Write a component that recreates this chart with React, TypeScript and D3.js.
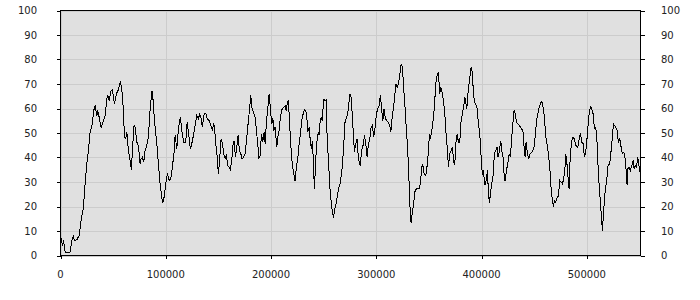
import React from "react";
import * as d3 from "d3";

// x positions in thousands
const xK: number[] = [
  0, 1.8, 2.8, 4.4, 9.1, 10.7, 12.3, 13.2, 15.5, 17.7, 19.6, 21.8, 23.4, 25.0, 26.5, 28.1, 29.7, 31.6, 32.9, 34.5,
  35.4, 36.7, 38.6, 40.8, 42.4, 44.0, 44.9, 46.2, 48.1, 49.3, 51.2, 52.5, 53.8, 55.0, 56.9, 58.2, 59.8, 60.7, 62.0, 63.0,
  64.5, 66.1, 67.4, 68.3, 69.9, 70.9, 72.5, 74.0, 75.6, 76.6, 77.8, 79.1, 80.4, 82.0, 83.5, 85.1, 86.7, 87.3, 88.6, 89.9,
  91.5, 93.0, 94.6, 96.2, 97.2, 98.4, 100.0, 101.6, 103.2, 104.8, 106.3, 107.9, 108.9, 110.5, 112.0, 113.9, 115.2, 117.1, 119.0, 120.3,
  121.5, 123.4, 124.7, 126.6, 127.9, 129.5, 131.0, 132.3, 133.6, 134.8, 136.4, 138.0, 139.3, 141.2, 142.8, 144.3, 145.3, 146.2, 147.5, 148.8,
  150.0, 151.3, 152.6, 153.8, 155.1, 156.4, 157.6, 158.9, 160.2, 161.4, 162.7, 164.0, 164.9, 166.2, 167.5, 168.7, 170.0, 171.3, 172.5, 173.8,
  175.4, 177.0, 178.5, 179.8, 180.8, 181.7, 183.3, 184.9, 186.1, 187.4, 188.4, 189.6, 190.9, 192.2, 193.4, 194.4, 195.8, 196.9, 198.2, 199.4,
  200.7, 201.7, 202.6, 203.9, 205.5, 206.4, 207.7, 208.9, 210.2, 211.8, 213.4, 214.3, 215.3, 216.5, 217.8, 219.1, 220.3, 221.6, 222.9, 224.1,
  225.4, 226.7, 227.9, 229.2, 230.5, 231.7, 233.0, 234.3, 234.9, 236.2, 237.4, 238.4, 239.3, 240.3, 241.2, 242.2, 243.1, 244.1, 245.0, 245.7,
  246.6, 247.6, 248.5, 249.5, 250.4, 251.4, 252.3, 253.3, 254.5, 256.1, 257.7, 259.3, 260.6, 261.8, 263.1, 264.4, 265.6, 267.2, 268.8, 270.4,
  272.0, 273.5, 274.8, 276.1, 277.3, 278.3, 279.2, 280.5, 281.8, 283.0, 284.6, 286.2, 287.8, 288.7, 290.0, 291.3, 292.5, 293.8, 295.1, 296.3,
  297.6, 298.9, 300.1, 301.4, 302.7, 303.9, 305.2, 306.2, 307.4, 308.7, 310.0, 311.5, 312.8, 313.8, 314.7, 316.0, 317.2, 318.5, 319.8, 321.0,
  322.3, 323.6, 324.8, 326.1, 327.4, 328.6, 329.9, 331.2, 332.1, 333.1, 334.3, 335.6, 336.9, 338.5, 340.7, 341.9, 343.2, 344.2, 345.4, 347.0,
  348.3, 349.5, 350.5, 351.4, 352.7, 354.0, 355.2, 356.5, 357.8, 359.0, 360.3, 361.3, 362.5, 363.8, 365.1, 366.3, 367.6, 368.5, 369.8, 371.1,
  372.3, 373.6, 374.6, 375.5, 376.8, 378.0, 379.3, 380.6, 381.8, 383.1, 384.1, 385.0, 386.0, 387.2, 388.5, 389.8, 390.7, 392.0, 393.2, 394.5,
  395.8, 397.0, 398.3, 399.6, 400.8, 401.8, 403.1, 404.3, 405.6, 406.5, 407.5, 408.4, 409.7, 411.0, 412.2, 413.5, 414.8, 415.7, 417.0, 418.3,
  419.2, 420.5, 421.4, 422.4, 423.6, 424.9, 426.2, 427.4, 428.7, 430.0, 430.9, 432.2, 433.1, 434.4, 435.7, 436.9, 438.2, 439.5, 440.4, 441.4,
  442.3, 443.6, 444.9, 446.1, 447.7, 449.6, 450.9, 452.1, 453.4, 454.7, 455.9, 457.2, 458.5, 459.7, 461.0, 462.0, 463.5, 464.8, 466.1, 467.3,
  468.3, 469.2, 470.5, 471.8, 473.0, 474.3, 475.6, 476.8, 478.1, 479.4, 480.0, 481.0, 481.9, 483.2, 484.1, 485.4, 487.0, 488.2, 489.5, 491.4,
  492.7, 493.9, 495.2, 496.5, 497.7, 499.0, 500.3, 501.2, 502.2, 503.4, 504.7, 506.0, 507.2, 508.5, 509.8, 511.0, 512.3, 513.6, 514.8, 516.1,
  517.4, 519.0, 520.2, 521.8, 523.1, 524.3, 525.3, 526.2, 527.5, 528.8, 530.0, 531.3, 532.6, 533.8, 535.1, 536.4, 537.6, 538.3, 538.9, 540.2,
  541.4, 542.7, 544.0, 544.9, 546.2, 547.1, 548.4, 549.7, 550.9,
];

const values: number[] = [
  8.2, 4.1, 6.1, 1.4, 1.4, 6.1, 7.8, 6.1, 6.4, 8.2, 14.3, 19.7, 29.3, 37.5, 42.9, 50.3, 52.4, 59.2, 61.2, 57.1,
  59.2, 56.5, 52.4, 55.1, 57.1, 63.9, 65.3, 63.5, 67.3, 67.6, 61.9, 64.6, 66.7, 67.6, 71, 68, 59.2, 48.3, 47.6, 50.3,
  42.9, 38.8, 35, 42.9, 53.1, 52.4, 46.3, 44.9, 37.4, 39.5, 40.1, 38.1, 42.9, 44.9, 48.3, 59.2, 66.7, 67.3, 59.2, 52.4,
  45.6, 37.4, 29.3, 23.8, 21.4, 23.8, 29.3, 33.6, 30.6, 31.3, 36.1, 42.2, 49, 43.5, 51.7, 56.7, 51, 46.3, 46.3, 54.4,
  50.3, 43.5, 45.6, 49.7, 53.1, 57.1, 55.8, 57.8, 55.8, 52.4, 57.6, 58.1, 55.8, 55.1, 53.1, 51, 53.7, 53.1, 45.6, 40.8,
  33.1, 40.1, 47.6, 45.6, 41.5, 39.5, 40.8, 36.7, 36.1, 35.1, 38.8, 45.6, 46.9, 40.1, 44.2, 49, 42.9, 41.5, 39.5, 40.1,
  41.5, 48.3, 55.1, 60.5, 65.3, 60.5, 58.5, 56.5, 51, 45.6, 39.5, 40.8, 49.7, 46.3, 50.3, 45.6, 55.5, 60, 66, 59.9,
  53.7, 56.2, 51, 52.4, 44.2, 48.3, 51, 56.5, 59.5, 60.5, 61, 59.2, 61.9, 63.3, 52.4, 42.9, 36.7, 33.3, 30.3, 36.1,
  39.5, 45.6, 49.7, 55.1, 57.8, 59.5, 59.2, 55.1, 50.3, 52.4, 46.3, 43.5, 46.9, 37.4, 27.2, 36.1, 44.2, 48.3, 50.3, 49,
  54.4, 56.5, 55.1, 60.5, 63.9, 63, 63.3, 48.3, 38.8, 26.5, 19.7, 15.4, 19, 21, 24.5, 27.9, 29.3, 34, 42.9, 55.1,
  56.5, 59.9, 66, 64.6, 56.5, 49, 42.2, 45.6, 47.6, 39.5, 36.7, 42.9, 45.6, 49, 45.6, 40.1, 45.6, 47.6, 52.4, 53.1,
  48.3, 52.4, 57.8, 59.9, 61.2, 65.3, 59.2, 55.1, 59.9, 55.8, 55.1, 54.4, 53.1, 50.3, 55.1, 59.2, 63.3, 70.1, 68.7, 70.1,
  73.5, 78, 76.9, 68, 59.9, 51, 42.9, 29.3, 19, 13.2, 17.7, 21.8, 26.5, 27.2, 27.2, 29.3, 36.1, 37.1, 33.3, 32.7,
  36.7, 42.2, 49.7, 47.6, 51, 55.1, 60.5, 70.1, 73.5, 74.8, 66, 68.7, 66.7, 63.3, 57.8, 49.7, 42.9, 36.3, 41.5, 42.9,
  44.2, 38.1, 37.1, 45.6, 49.7, 46.3, 46.3, 55.1, 57.8, 61.2, 64.6, 62.6, 59.9, 66.7, 71.4, 76.2, 76.9, 68.7, 62.6, 61.9,
  60, 53.7, 49.7, 40.1, 32.7, 34.7, 28.6, 30.6, 34.7, 25.9, 21.4, 25.2, 29.3, 32.7, 41.5, 42.9, 44.2, 40.1, 42.9, 46.9,
  42.9, 40.1, 33.3, 30.3, 34.7, 37.4, 41.5, 40.1, 48.3, 55.1, 59.2, 57.8, 54.4, 53.7, 53.1, 52.4, 51.7, 50.3, 44.2, 40.1,
  46.3, 41.5, 39.5, 41.5, 42.2, 43.5, 48.3, 54.4, 57.8, 60.5, 61.9, 63, 60.5, 56.5, 48.3, 46.3, 41.5, 36.1, 27.2, 22.4,
  20, 22.4, 21.8, 23.8, 24.1, 30.6, 29.9, 29.3, 31.3, 36.7, 41.5, 38.1, 33.3, 27.2, 38.8, 46.3, 48.3, 47.6, 44.9, 44.2,
  47.6, 49.9, 46.3, 45.6, 40.1, 42.2, 48.3, 53.1, 57.8, 60.8, 59.9, 57.8, 51.7, 52.4, 45.6, 33.3, 25.2, 17.7, 10.2, 19,
  25.9, 31.3, 36.7, 37.4, 42.9, 48.3, 53.7, 53.1, 52.4, 51, 46.3, 47.6, 44.2, 41.5, 42.2, 39.5, 33.3, 28.6, 35.4, 36.1,
  34.7, 36.7, 38.8, 35.4, 36.7, 36.1, 40.1, 36.1, 33.3,
];

const xTicks: number[] = [0, 100000, 200000, 300000, 400000, 500000];
const yTicks: number[] = [0, 10, 20, 30, 40, 50, 60, 70, 80, 90, 100];
const xMax = 551000;

export default function App() {
  const left = 60.5;
  const right = 640.5;
  const top = 10.5;
  const bottom = 255.5;
  const x = d3.scaleLinear().domain([0, xMax]).range([left, right]);
  const y = d3.scaleLinear().domain([0, 100]).range([bottom, top]);
  const pts: [number, number][] = xK.map((k, i) => [k * 1000, values[i]]);
  const line = d3
    .line<[number, number]>()
    .x((d) => x(d[0]))
    .y((d) => y(d[1]));
  const font = "'DejaVu Sans', Verdana, sans-serif";
  const r = (v: number) => Math.round(v) + 0.5;
  return (
    <svg
      width={700}
      height={300}
      style={{ position: "absolute", left: 0, top: 0, background: "#fff" }}
    >
      <rect x={left} y={top} width={right - left} height={bottom - top} fill="#e0e0e0" />
      {yTicks.map((t) => (
        <line key={"gy" + t} x1={left} x2={right} y1={r(y(t))} y2={r(y(t))} stroke="#cccccc" strokeWidth={1} shapeRendering="crispEdges" />
      ))}
      {xTicks.map((t) => (
        <line key={"gx" + t} x1={r(x(t))} x2={r(x(t))} y1={top} y2={bottom} stroke="#cccccc" strokeWidth={1} shapeRendering="crispEdges" />
      ))}
      <path d={line(pts) || ""} fill="none" stroke="#000" strokeWidth={1} shapeRendering="crispEdges" />
      <rect x={left} y={top} width={right - left} height={bottom - top} fill="none" stroke="#000" strokeWidth={1} shapeRendering="crispEdges" />
      {yTicks.map((t) => (
        <g key={"yt" + t}>
          <line x1={left - 4} x2={left} y1={r(y(t))} y2={r(y(t))} stroke="#000" shapeRendering="crispEdges" />
          <line x1={right} x2={right + 4} y1={r(y(t))} y2={r(y(t))} stroke="#000" shapeRendering="crispEdges" />
          <text x={37} y={y(t)} dy="0.35em" textAnchor="end" fontFamily={font} fontSize={10} fill="#222">
            {t}
          </text>
          <text x={661} y={y(t)} dy="0.35em" textAnchor="start" fontFamily={font} fontSize={10} fill="#222">
            {t}
          </text>
        </g>
      ))}
      {xTicks.map((t) => (
        <g key={"xt" + t}>
          <line x1={r(x(t))} x2={r(x(t))} y1={bottom} y2={bottom + 3} stroke="#000" shapeRendering="crispEdges" />
          <text x={x(t)} y={277.5} textAnchor="middle" fontFamily={font} fontSize={10} fill="#222">
            {t}
          </text>
        </g>
      ))}
    </svg>
  );
}
